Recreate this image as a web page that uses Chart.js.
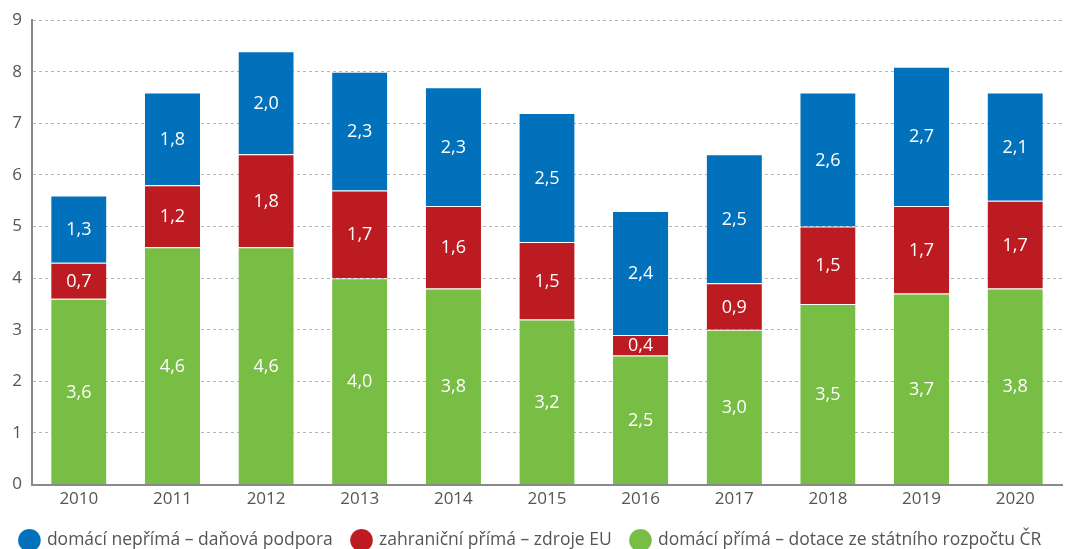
<!DOCTYPE html>
<html>
<head>
<meta charset="utf-8">
<script src="https://cdn.jsdelivr.net/npm/chart.js@4.4.0/dist/chart.umd.min.js"></script>
<style>
    html, body { margin: 0; padding: 0; background: #fff; overflow: hidden; }
    #wrap { width: 1072px; height: 559px; position: relative; }
</style>
</head>
<body>
<div id="wrap"><canvas id="canvasChart"></canvas></div>
<script>
const years = ['2010', '2011', '2012', '2013', '2014', '2015', '2016', '2017', '2018', '2019', '2020'];
const domesticDirect = [3.6, 4.6, 4.6, 4.0, 3.8, 3.2, 2.5, 3.0, 3.5, 3.7, 3.8];
const foreignDirect = [0.7, 1.2, 1.8, 1.7, 1.6, 1.5, 0.4, 0.9, 1.5, 1.7, 1.7];
const domesticIndirect = [1.3, 1.8, 2.0, 2.3, 2.3, 2.5, 2.4, 2.5, 2.6, 2.7, 2.1];

const fontFamily = "'Open Sans', 'Noto Sans', sans-serif";

// popisky hodnot uprostred kazdeho segmentu
const barLabels = {
    id: 'barLabels',
    afterDatasetsDraw(chart) {
        const ctx = chart.ctx;
        ctx.save();
        ctx.font = '18px ' + fontFamily;
        ctx.fillStyle = '#ffffff';
        ctx.textAlign = 'center';
        ctx.textBaseline = 'middle';
        chart.data.datasets.forEach((ds, i) => {
            const meta = chart.getDatasetMeta(i);
            meta.data.forEach((bar, j) => {
                const txt = ds.data[j].toFixed(1).replace('.', ',');
                ctx.fillText(txt, bar.x, (bar.y + bar.base) / 2 + 1);
            });
        });
        ctx.restore();
    }
};

const chart = new Chart(document.getElementById('canvasChart').getContext('2d'), {
    type: 'bar',
    data: {
        labels: years,
        datasets: [
            {
                label: 'domácí přímá – dotace ze státního rozpočtu ČR',
                data: domesticDirect,
                backgroundColor: '#78bd44'
            },
            {
                label: 'zahraniční přímá – zdroje EU',
                data: foreignDirect,
                backgroundColor: '#bd1b22'
            },
            {
                label: 'domácí nepřímá – daňová podpora',
                data: domesticIndirect,
                backgroundColor: '#0071ba'
            }
        ]
    },
    options: {
        responsive: true,
        maintainAspectRatio: false,
        animation: false,
        datasets: {
            bar: {
                categoryPercentage: 1,
                barPercentage: 0.59,
                borderWidth: { top: 1 },
                borderColor: 'rgba(255,255,255,0.35)'
            }
        },
        layout: { padding: { top: 14, right: 10, left: 0, bottom: 0 } },
        scales: {
            x: {
                stacked: true,
                afterFit(scale) { scale.height = 27; },
                grid: { display: false, drawTicks: false },
                border: { display: true, color: '#8a8a8a', width: 2 },
                ticks: { color: '#555', font: { size: 17, family: fontFamily }, padding: 4 }
            },
            y: {
                stacked: true,
                min: 0,
                max: 9,
                afterFit(scale) { scale.width = 32; },
                grid: { color: '#b5b5b5', drawTicks: false },
                border: { display: true, color: '#8a8a8a', width: 2, dash: [3, 3] },
                ticks: { stepSize: 1, color: '#555', font: { size: 17, family: fontFamily }, padding: 10 }
            }
        },
        plugins: {
            tooltip: { enabled: false },
            legend: {
                position: 'bottom',
                reverse: true,
                labels: {
                    usePointStyle: true,
                    pointStyle: 'circle',
                    boxWidth: 17.5,
                    boxHeight: 16,
                    padding: 20,
                    color: '#555',
                    font: { size: 17.5, family: fontFamily }
                }
            }
        }
    },
    plugins: [barLabels]
});
</script>
</body>
</html>
